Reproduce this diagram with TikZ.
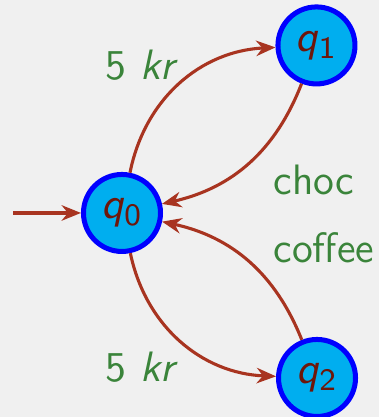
\documentclass[tikz,border=0pt]{standalone}
\usepackage{tikz}
\usetikzlibrary{arrows.meta}
\definecolor{AutBg}{RGB}{240,240,240}
\definecolor{AutFill}{RGB}{0,174,239}
\definecolor{AutRim}{RGB}{0,0,255}
\definecolor{AutArrow}{RGB}{168,52,32}
\definecolor{AutState}{RGB}{110,22,10}
\definecolor{AutLabel}{RGB}{58,132,58}

\begin{document}
\begin{tikzpicture}[
          font=\fontsize{11}{13}\selectfont\sffamily,
          state/.style={circle, fill=AutFill, draw=AutRim, line width=1.3pt,
                        minimum size=0.7cm, inner sep=0pt, text=AutState,
                        font=\fontsize{11.5}{13}\selectfont\sffamily},
          arr/.style={-{Stealth[length=5pt, width=4pt]}, draw=AutArrow, thick},
          lbl/.style={text=AutLabel}
        ]
        % background and frame
        \fill[AutBg] (-1.109, -1.855) rectangle (2.336, 1.936);
        \useasboundingbox (-1.109, -1.855) rectangle (2.336, 1.936);

        % States
        \node[state] (q0) at (0,     0)    {\textit{q}\textsubscript{0}};
        \node[state] (q1) at (1.768, 1.523) {\textit{q}\textsubscript{1}};
        \node[state] (q2) at (1.773, -1.5)  {\textit{q}\textsubscript{2}};

        \coordinate (start) at (-0.99, 0);
        \draw[arr] (start) -- (q0);

        \draw[arr] (q0) to[bend left=38]  (q1);
        \draw[arr] (q1) to[bend left=28]  (q0);
        \draw[arr] (q0) to[bend right=38] (q2);
        \draw[arr] (q2) to[bend right=28] (q0);

        % Labels
        \node[lbl] (buy1)   at (0.182, 1.345)  {5 \textit{kr}};
        \node[lbl] (buy2)   at (0.182, -1.4)   {5 \textit{kr}};
        \node[lbl] (choc)   at (1.745, 0.3)    {choc};
        \node[lbl] (coffee) at (1.836, -0.318) {coffee};
      \end{tikzpicture}
\end{document}
